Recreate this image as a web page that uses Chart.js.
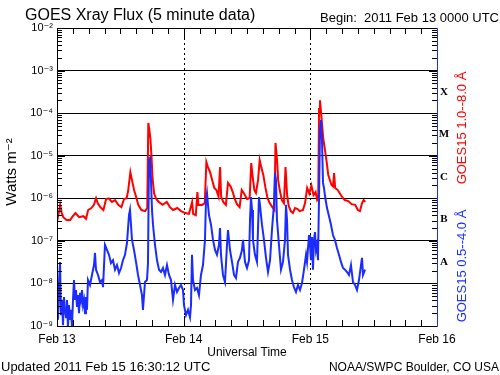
<!DOCTYPE html>
<html>
<head>
<meta charset="utf-8">
<script src="https://cdn.jsdelivr.net/npm/chart.js@4.4.0/dist/chart.umd.min.js"></script>
<style>
html, body { margin: 0; padding: 0; background: #fff; }
</style>
</head>
<body>
<canvas id="xrayChart" width="500" height="375"></canvas>
<script>
// hours since 2011 Feb 13 00:00 UTC
const dayHours = [0, 24, 48, 72];
const dayLabels = ['Feb 13', 'Feb 14', 'Feb 15', 'Feb 16'];
const decadeExps = [-9, -8, -7, -6, -5, -4, -3, -2];
const classLetters = ['A', 'B', 'C', 'M', 'X'];
const classMids = [3.16e-8, 3.16e-7, 3.16e-6, 3.16e-5, 3.16e-4];

// GOES15 1.0--8.0 A (long channel)
const redHours = [0.0, 0.4, 0.6, 0.9, 1.2, 1.8, 2.5, 3.0, 3.5, 4.2, 5.0, 5.5, 5.9, 6.5, 7.0, 7.4, 7.7, 8.2, 8.8, 9.3,
  9.8, 10.4, 11.0, 11.6, 12.2, 12.7, 13.2, 13.5, 13.9, 14.2, 14.6, 15.0, 15.4, 16.0, 16.7, 17.1, 17.3, 17.5, 17.7, 17.9,
  18.1, 18.4, 18.8, 19.3, 20.0, 20.8, 21.4, 22.0, 22.8, 23.5, 24.3, 25.0, 25.6, 25.8, 26.3, 26.6, 26.8, 27.5, 28.0, 28.3,
  28.6, 29.0, 29.4, 29.8, 30.2, 30.6, 30.9, 31.1, 31.5, 32.0, 32.4, 32.9, 33.3, 33.7, 34.1, 34.6, 35.0, 35.5, 36.0, 36.5,
  36.8, 37.1, 37.4, 37.7, 38.1, 38.4, 38.7, 39.1, 39.5, 39.9, 40.3, 40.8, 41.2, 41.4, 41.7, 41.9, 42.2, 42.6, 43.0, 43.3,
  43.6, 43.9, 44.3, 44.7, 45.1, 45.6, 46.0, 46.6, 47.0, 47.4, 47.8, 48.2, 48.6, 49.0, 49.3, 49.5, 49.65, 49.83, 50.15, 50.45,
  50.78, 51.1, 51.4, 52.0, 52.3, 52.5, 52.7, 53.2, 53.9, 54.5, 55.2, 55.8, 56.5, 57.0, 57.4, 57.8, 58.1, 58.4];
const redFlux = [2.8e-7, 5.0e-7, 7.0e-7, 4.5e-7, 3.6e-7, 3.1e-7, 3.1e-7, 3.8e-7, 4.5e-7, 3.6e-7, 3.8e-7, 3.3e-7, 5.3e-7, 5.9e-7, 7.0e-7, 1.0e-6, 7.7e-7, 6.2e-7, 5.3e-7, 9.6e-7,
  1.0e-6, 8.2e-7, 9.1e-7, 7.0e-7, 6.2e-7, 9.6e-7, 1.0e-6, 1.56e-6, 4.1e-6, 2.7e-6, 1.56e-6, 1.07e-6, 7.0e-7, 5.3e-7, 5.0e-7, 5.9e-7, 5.9e-5, 4.0e-5, 2.5e-5, 1.0e-5,
  3.0e-6, 1.3e-6, 9.6e-7, 8.2e-7, 7.0e-7, 8.2e-7, 6.2e-7, 5.3e-7, 5.9e-7, 5.0e-7, 4.5e-7, 4.3e-7, 8.2e-7, 4.3e-7, 4.0e-7, 1.4e-6, 7.0e-7, 7.0e-7, 7.7e-7, 7.1e-6,
  5.4e-6, 4.1e-6, 2.7e-6, 1.75e-6, 1.56e-6, 1.1e-6, 5.4e-6, 1.1e-6, 8.2e-7, 7.0e-7, 2.3e-6, 1.9e-6, 1.4e-6, 9.6e-7, 7.3e-7, 6.2e-7, 1.56e-6, 1.26e-6, 9.6e-7, 1.0e-6,
  6.7e-6, 3.0e-6, 1.56e-6, 1.33e-6, 2.7e-6, 7.9e-6, 5.4e-6, 3.5e-6, 1.75e-6, 1.0e-6, 7.7e-7, 6.2e-7, 5.3e-7, 2.0e-5, 7.9e-6, 2.7e-6, 1.56e-6, 9.1e-7, 7.7e-7, 5.4e-6,
  1.19e-6, 6.6e-7, 5.0e-7, 4.5e-7, 5.9e-7, 5.6e-7, 5.0e-7, 5.3e-7, 7.7e-7, 1.75e-6, 1.3e-6, 2.0e-6, 1.19e-6, 1.4e-6, 9.1e-7, 1.0e-6, 1.25e-4, 2.0e-4, 7.0e-5, 2.5e-5,
  1.36e-5, 7.1e-6, 3.5e-6, 2.05e-6, 1.9e-6, 3.9e-6, 1.75e-6, 1.56e-6, 1.13e-6, 9.1e-7, 8.6e-7, 7.3e-7, 7.0e-7, 5.3e-7, 5.0e-7, 7.7e-7, 9.1e-7, 8.2e-7];

// GOES15 0.5--4.0 A (short channel)
const blueHours = [0.0, 0.19, 0.38, 0.57, 0.76, 0.95, 1.14, 1.33, 1.52, 1.71, 1.89, 2.08, 2.27, 2.46, 2.65, 2.84, 3.03, 3.22, 3.41, 3.6,
  3.79, 3.98, 4.17, 4.36, 4.55, 4.74, 4.93, 5.12, 5.31, 5.49, 5.68, 5.87, 6.25, 6.63, 7.01, 7.2, 7.39, 7.77, 8.15, 8.53,
  8.72, 9.09, 9.47, 9.85, 10.23, 10.61, 10.99, 11.37, 11.75, 12.13, 12.5, 12.88, 13.26, 13.64, 13.83, 14.02, 14.21, 14.59, 14.97, 15.35,
  15.73, 16.1, 16.29, 16.67, 17.05, 17.24, 17.43, 17.62, 17.81, 18.0, 18.19, 18.57, 18.95, 19.33, 19.71, 20.08, 20.46, 20.84, 21.22, 21.6,
  21.98, 22.36, 22.74, 23.11, 23.49, 23.87, 24.06, 24.44, 24.82, 25.2, 25.39, 25.58, 25.77, 26.15, 26.53, 26.9, 27.28, 27.66, 28.04, 28.23,
  28.42, 28.61, 28.8, 29.18, 29.56, 29.94, 30.31, 30.69, 30.88, 31.07, 31.45, 31.83, 32.21, 32.4, 32.78, 33.16, 33.54, 33.91, 34.29, 34.67,
  35.05, 35.24, 35.62, 36.0, 36.38, 36.57, 36.76, 36.95, 37.13, 37.51, 37.89, 38.08, 38.27, 38.46, 38.65, 38.84, 39.22, 39.6, 39.98, 40.36,
  40.73, 41.11, 41.3, 41.49, 41.68, 42.06, 42.44, 42.82, 43.2, 43.39, 43.58, 43.77, 44.15, 44.52, 44.9, 45.28, 45.66, 46.04, 46.42, 46.8,
  47.18, 47.37, 47.75, 47.93, 48.12, 48.31, 48.5, 48.69, 48.88, 49.07, 49.26, 49.45, 49.64, 49.83, 50.02, 50.21, 50.4, 50.59, 50.78, 51.16,
  51.54, 51.91, 52.29, 52.67, 53.05, 53.43, 53.81, 54.19, 54.57, 54.95, 55.32, 55.7, 56.08, 56.46, 56.84, 57.22, 57.6, 57.79, 57.98, 58.36];
const blueFlux = [2.7e-8, 1.4e-9, 7.0e-9, 3.2e-8, 1.8e-9, 4.1e-9, 1.05e-9, 4.8e-9, 2.4e-9, 1.6e-9, 4.1e-9, 9.5e-10, 3.1e-9, 1.4e-9, 2.4e-9, 9.5e-10, 4.1e-9, 1.2e-8, 4.1e-9, 7.0e-9,
  2.8e-9, 5.3e-9, 2.0e-9, 6.0e-9, 4.1e-9, 7.0e-9, 3.1e-9, 4.1e-9, 2.0e-9, 4.8e-9, 2.4e-9, 1.2e-8, 9.2e-9, 1.58e-8, 2.7e-8, 5.2e-8, 2.1e-8, 1.58e-8, 1.08e-8, 1.2e-8,
  8.2e-9, 8.0e-8, 6.1e-8, 4.7e-8, 3.0e-8, 3.5e-8, 2.1e-8, 2.7e-8, 1.76e-8, 2.3e-8, 3.5e-8, 4.7e-8, 8.9e-8, 4.0e-7, 5.3e-7, 2.4e-7, 1.05e-7, 6.1e-8, 3.2e-8, 1.58e-8,
  9.2e-9, 5.3e-9, 2.4e-9, 1.08e-8, 1.2e-8, 3.0e-8, 7.9e-6, 8.8e-6, 2.7e-6, 5.3e-7, 2.4e-7, 8.0e-8, 3.5e-8, 2.1e-8, 1.85e-8, 2.3e-8, 1.58e-8, 2.7e-8, 1.58e-8, 1.2e-8,
  4.1e-9, 9.2e-9, 6.3e-9, 7.8e-9, 9.2e-9, 7.0e-9, 3.1e-9, 1.8e-9, 2.4e-9, 1.6e-9, 3.1e-9, 4.7e-8, 1.2e-8, 7.0e-9, 7.8e-9, 5.3e-9, 1.58e-8, 2.7e-8, 1.05e-7, 9.1e-7,
  1.33e-6, 7.0e-7, 4.0e-7, 2.4e-7, 1.05e-7, 6.1e-8, 4.7e-8, 8.0e-8, 2.0e-7, 4.7e-8, 1.58e-8, 1.08e-8, 8.0e-8, 1.8e-7, 6.1e-8, 3.2e-8, 1.58e-8, 1.34e-8, 3.2e-8, 4.0e-8,
  6.1e-8, 1.05e-7, 3.2e-8, 2.3e-8, 3.5e-8, 3.1e-7, 1.07e-6, 5.3e-7, 1.05e-7, 4.7e-8, 3.2e-8, 1.8e-7, 1.07e-6, 7.0e-7, 4.0e-7, 2.4e-7, 1.05e-7, 4.0e-8, 1.85e-8, 3.5e-8,
  1.8e-7, 7.0e-7, 3.9e-6, 2.7e-6, 3.1e-7, 8.0e-8, 2.1e-8, 3.2e-8, 1.05e-7, 7.0e-7, 3.1e-7, 4.7e-8, 2.1e-8, 1.2e-8, 8.2e-9, 6.3e-9, 9.2e-9, 7.0e-9, 1.02e-8, 2.1e-8,
  4.7e-8, 3.2e-8, 1.37e-7, 8.0e-8, 3.5e-8, 1.23e-7, 2.1e-8, 1.05e-7, 1.6e-7, 6.1e-8, 8.0e-8, 3.5e-8, 9.1e-7, 4.0e-5, 6.9e-5, 2.3e-5, 2.3e-6, 1.75e-6, 1.13e-6, 5.9e-7,
  3.8e-7, 2.4e-7, 1.37e-7, 1.05e-7, 6.8e-8, 4.7e-8, 3.2e-8, 2.3e-8, 2.1e-8, 1.85e-8, 1.58e-8, 2.7e-8, 1.08e-8, 9.2e-9, 7.0e-9, 1.2e-8, 2.7e-8, 4.0e-8, 1.58e-8, 2.1e-8];

const FONT = "'Liberation Sans', 'DejaVu Sans', sans-serif";
const SUP = {'-': '\u207B', '0': '\u2070', '1': '\u00B9', '2': '\u00B2', '3': '\u00B3', '4': '\u2074',
  '5': '\u2075', '6': '\u2076', '7': '\u2077', '8': '\u2078', '9': '\u2079'};

function tenPow(v) {
  const e = Math.round(Math.log10(v));
  return '10' + String(e).split('').map(c => SUP[c]).join('');
}

function toPoints(hours, flux) {
  return hours.map((h, i) => ({x: h, y: flux[i]}));
}

// frame, inner ticks, dotted day lines and the loose text
const goesDecor = {
  id: 'goesDecor',
  beforeDatasetsDraw(chart) {
    const {ctx, chartArea: a, scales: {x}} = chart;
    ctx.save();
    ctx.strokeStyle = '#000';
    ctx.lineWidth = 1;
    ctx.setLineDash([2, 3]);
    [24, 48].forEach(h => {
      const px = Math.round(x.getPixelForValue(h)) + 0.5;
      ctx.beginPath();
      ctx.moveTo(px, a.top);
      ctx.lineTo(px, a.bottom);
      ctx.stroke();
    });
    ctx.restore();
  },
  afterDatasetsDraw(chart) {
    const {ctx, chartArea: a, scales: {x, y}} = chart;
    ctx.save();
    ctx.lineWidth = 1;
    ctx.strokeStyle = '#000';

    // log minor ticks on left and right
    ctx.beginPath();
    decadeExps.forEach(e => {
      for (let m = 1; m <= 9; m++) {
        const v = m * Math.pow(10, e);
        if (v > 1e-2 + 1e-12) continue;
        const py = Math.round(y.getPixelForValue(v)) + 0.5;
        const len = m === 1 ? 8 : 5;
        ctx.moveTo(a.left, py); ctx.lineTo(a.left + len, py);
        ctx.moveTo(a.right, py); ctx.lineTo(a.right - len, py);
      }
    });
    // 3-hourly ticks top and bottom
    for (let h = 3; h < 72; h += 3) {
      const px = Math.round(x.getPixelForValue(h)) + 0.5;
      const len = h % 24 === 0 ? 10 : 6;
      ctx.moveTo(px, a.bottom); ctx.lineTo(px, a.bottom - len);
      ctx.moveTo(px, a.top); ctx.lineTo(px, a.top + len);
    }
    ctx.stroke();

    // frame
    const l = Math.round(a.left) + 0.5, r = Math.round(a.right) + 0.5;
    const t = Math.round(a.top) + 0.5, b = Math.round(a.bottom) + 0.5;
    ctx.beginPath();
    ctx.moveTo(r, t); ctx.lineTo(l, t); ctx.lineTo(l, b); ctx.lineTo(r, b);
    ctx.stroke();
    ctx.strokeStyle = '#1a2cff';
    ctx.beginPath();
    ctx.moveTo(r, t); ctx.lineTo(r, b);
    ctx.stroke();

    // flare class letters
    ctx.fillStyle = '#000';
    ctx.font = "bold 11px 'Liberation Serif', serif";
    ctx.textAlign = 'center';
    ctx.textBaseline = 'middle';
    classLetters.forEach((c, i) => {
      ctx.fillText(c, a.right + 7, y.getPixelForValue(classMids[i]));
    });

    // titles
    ctx.textBaseline = 'alphabetic';
    ctx.textAlign = 'left';
    ctx.font = '16px ' + FONT;
    ctx.fillText('GOES Xray Flux (5 minute data)', 25, 20);
    ctx.textAlign = 'right';
    ctx.font = '13px ' + FONT;
    ctx.fillText('Begin:  2011 Feb 13 0000 UTC', 499, 22);

    ctx.textAlign = 'center';
    ctx.font = '12px ' + FONT;
    ctx.fillText('Universal Time', (a.left + a.right) / 2, 356);
    ctx.textAlign = 'left';
    ctx.font = '13px ' + FONT;
    ctx.fillText('Updated 2011 Feb 15 16:30:12 UTC', 1, 371);
    ctx.textAlign = 'right';
    ctx.font = '12px ' + FONT;
    ctx.fillText('NOAA/SWPC Boulder, CO USA', 499, 371);

    // rotated axis titles
    ctx.textAlign = 'center';
    ctx.textBaseline = 'middle';
    ctx.save();
    ctx.translate(12, 172);
    ctx.rotate(-Math.PI / 2);
    ctx.font = '15px ' + FONT;
    ctx.fillText('Watts m\u207B\u00B2', 0, 0);
    ctx.restore();

    ctx.save();
    ctx.translate(462, 128);
    ctx.rotate(-Math.PI / 2);
    ctx.font = '13px ' + FONT;
    ctx.fillStyle = '#ff0000';
    ctx.fillText('GOES15 1.0--8.0 \u00C5', 0, 0);
    ctx.restore();

    ctx.save();
    ctx.translate(462, 266);
    ctx.rotate(-Math.PI / 2);
    ctx.font = '13px ' + FONT;
    ctx.fillStyle = '#1a2cff';
    ctx.fillText('GOES15 0.5--4.0 \u00C5', 0, 0);
    ctx.restore();

    ctx.restore();
  }
};

const ctx = document.getElementById('xrayChart').getContext('2d');
const xrayChart = new Chart(ctx, {
  type: 'line',
  data: {
    datasets: [{
      label: 'GOES15 1.0--8.0 A',
      data: toPoints(redHours, redFlux),
      borderColor: '#ff0000',
      borderWidth: 2,
      pointRadius: 0,
      tension: 0,
      order: 1
    }, {
      label: 'GOES15 0.5--4.0 A',
      data: toPoints(blueHours, blueFlux),
      borderColor: '#1a2cff',
      borderWidth: 2,
      pointRadius: 0,
      tension: 0,
      order: 0
    }]
  },
  options: {
    responsive: false,
    animation: false,
    layout: { padding: { top: 28, right: 63, bottom: 0, left: 0 } },
    plugins: { legend: { display: false }, tooltip: { enabled: false } },
    scales: {
      x: {
        type: 'linear',
        min: 0,
        max: 72,
        afterBuildTicks: s => { s.ticks = dayHours.map(v => ({value: v})); },
        afterFit: s => { s.height = 49; },
        ticks: {
          callback: v => dayLabels[dayHours.indexOf(v)],
          color: '#000',
          font: { family: FONT, size: 12 },
          padding: 6,
          maxRotation: 0,
          autoSkip: false
        },
        grid: { display: false, drawTicks: false },
        border: { display: false }
      },
      y: {
        type: 'logarithmic',
        min: 1e-9,
        max: 1e-2,
        afterBuildTicks: s => { s.ticks = decadeExps.map(e => ({value: Math.pow(10, e)})); },
        afterFit: s => { s.width = 57; },
        ticks: {
          callback: v => tenPow(v),
          color: '#000',
          font: { family: FONT, size: 11 },
          padding: 4,
          autoSkip: false
        },
        grid: { color: '#000', lineWidth: 1, drawTicks: false },
        border: { display: false }
      }
    }
  },
  plugins: [goesDecor]
});
</script>
</body>
</html>
